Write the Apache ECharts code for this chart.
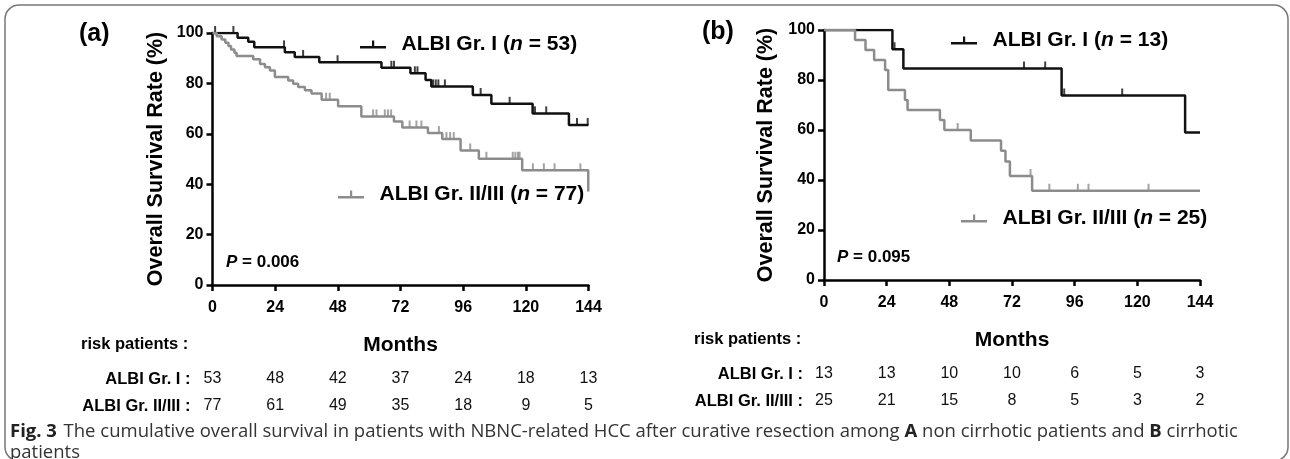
<!DOCTYPE html>
<html lang="en">
<head>
    <meta charset="utf-8"/>
    <title>ALBI grade survival</title>
    <script src="https://cdn.jsdelivr.net/npm/echarts@6/dist/echarts.min.js"></script>
    <style>
        html, body { margin: 0; padding: 0; background: #fff; }
        #chart { width: 1290px; height: 459px; }
    </style>
</head>
<body>
<div id="chart"></div>
<script>
    // tick months and numbers at risk
    const months = [0, 24, 48, 72, 96, 120, 144];
    const riskA_I = [53, 48, 42, 37, 24, 18, 13];
    const riskA_II = [77, 61, 49, 35, 18, 9, 5];
    const riskB_I = [13, 13, 10, 10, 6, 5, 3];
    const riskB_II = [25, 21, 15, 8, 5, 3, 2];

    // Kaplan-Meier steps [month, survival %]
    const kmA_I = [[0, 100], [9.6, 98.1], [13.7, 96.5], [16, 94.3], [27.7, 92.4], [31.5, 90.5], [40.9, 88.4],
        [64.7, 86.2], [75.8, 84.0], [81.6, 81.3], [83.8, 78.8], [99.7, 75.4], [106.8, 71.9], [122.6, 68.1],
        [136.5, 63.5], [144, 63.5]];
    const kmA_II = [[0, 100], [1.6, 98.7], [3.5, 97.4], [4.9, 96.1], [6.1, 94.8], [7.1, 93.5], [8.4, 92.2],
        [9.2, 90.9], [15.6, 89.6], [18.2, 87.7], [20.1, 86.4], [22, 85.1], [23.9, 82.5], [29, 81.2],
        [30.9, 79.9], [32.8, 78.6], [35.4, 77.3], [37.9, 76], [41.8, 73.5], [48.1, 70.9], [57, 66.9],
        [69.5, 64.9], [72.7, 62.5], [82.5, 60.3], [88, 57.9], [95, 53.4], [102, 50.1], [118.6, 45.5],
        [143.9, 37.1], [144, 37.1]];
    const kmB_I = [[0, 100], [26.2, 92.3], [30.4, 84.6], [91, 73.8], [138.3, 59], [144, 59]];
    const kmB_II = [[0, 100], [11.9, 96], [15.9, 92], [19.2, 88], [23.4, 84], [24.6, 76], [31, 72], [32, 68],
        [44.4, 64], [46.1, 60], [56.2, 55.8], [67.8, 51.7], [69.5, 47.4], [71.2, 41.6], [79.7, 35.7], [144, 35.7]];

    // censored times (months)
    const cenA_I = [1, 8, 27.4, 34.7, 47.9, 68.5, 69.5, 77.5, 78.5, 84.5, 85.5, 86.5, 89, 102.7, 113.8, 123.5, 127.8, 139.6, 143.7];
    const cenA_II = [43.5, 44.9, 61.5, 62.8, 66, 67.2, 68.4, 75.5, 78.1, 80, 86.7, 89.6, 91, 92.4, 98.7, 104.9,
        115, 116, 117, 117.6, 122.7, 126.9, 131, 140.9];
    const cenB_I = [27, 76.6, 84.7, 92, 114.2];
    const cenB_II = [51.2, 79.1, 86.3, 97.2, 101.3, 124.3];

    const names = ['ALBI Gr. I (n = 53)', 'ALBI Gr. II/III (n = 77)', 'ALBI Gr. I (n = 13)', 'ALBI Gr. II/III (n = 25)'];

    const FONT = '"Liberation Sans", Arial, sans-serif';
    const BLACK = '#111';
    const GRAY = '#8c8c8c';

    function survivalAt(km, t) {
        let v = km[0][1];
        for (let i = 0; i < km.length; i++) {
            if (km[i][0] <= t) v = km[i][1];
        }
        return v;
    }

    function censorData(km, times) {
        return times.map(function (t) { return [t, survivalAt(km, t)]; });
    }

    const chart = echarts.init(document.getElementById('chart'), null, {renderer: 'canvas'});

    const grids = [
        {left: 212.5, top: 33, width: 376, height: 252},
        {left: 824, top: 30, width: 376, height: 250}
    ];

    function mainX(gi, nameGap) {
        return {
            type: 'value', gridIndex: gi, min: 0, max: 144, interval: 24,
            name: 'Months', nameLocation: 'middle', nameGap: nameGap,
            nameTextStyle: {fontFamily: FONT, fontWeight: 'bold', fontSize: 21, color: '#000'},
            axisLine: {lineStyle: {color: '#000', width: 2.5}},
            axisTick: {length: 6, lineStyle: {color: '#000', width: 2.5}},
            axisLabel: {fontFamily: FONT, fontWeight: 'bold', fontSize: 16, color: '#000', margin: 15},
            splitLine: {show: false}
        };
    }

    function riskX(gi, label, values, offset, gap) {
        return {
            type: 'value', gridIndex: gi, min: 0, max: 144, interval: 24, position: 'bottom', offset: offset,
            name: label, nameLocation: 'start', nameGap: gap,
            nameTextStyle: {fontFamily: FONT, fontWeight: 'bold', fontSize: 16.5, color: '#000', verticalAlign: 'middle'},
            axisLine: {show: false}, axisTick: {show: false}, splitLine: {show: false},
            axisLabel: {
                fontFamily: FONT, fontSize: 16, color: '#111', margin: 0, verticalAlign: 'middle',
                formatter: function (v) { return String(values[months.indexOf(v)]); }
            }
        };
    }

    function yAxis(gi, nameGap) {
        return {
            type: 'value', gridIndex: gi, min: 0, max: 100, interval: 20,
            name: 'Overall Survival Rate (%)', nameLocation: 'middle', nameGap: nameGap,
            nameTextStyle: {fontFamily: FONT, fontWeight: 'bold', fontSize: 21.5, color: '#000'},
            axisLine: {show: true, lineStyle: {color: '#000', width: 2.5}},
            axisTick: {show: true, length: 6, lineStyle: {color: '#000', width: 2.5}},
            axisLabel: {fontFamily: FONT, fontWeight: 'bold', fontSize: 16, color: '#000', margin: 9},
            splitLine: {show: false}
        };
    }

    function kmSeries(name, km, cens, color, xi, yi) {
        return [{
            name: name, type: 'line', step: 'end', data: km, xAxisIndex: xi, yAxisIndex: yi,
            showSymbol: false, symbol: 'none', animation: false,
            lineStyle: {color: color, width: 2.5}, itemStyle: {color: color}
        }, {
            name: name, type: 'scatter', data: censorData(km, cens), xAxisIndex: xi, yAxisIndex: yi,
            symbol: 'rect', symbolSize: [2, 7], symbolOffset: [0, -3.5], animation: false,
            itemStyle: {color: color}, silent: true
        }];
    }

    const legendIcon = 'path://M0,5.5H26V8H0Z M12,0H14.2V5.5H12Z';
    function legendAt(name, left, top) {
        const bold = {fontFamily: FONT, fontWeight: 'bold', fontSize: 21, color: '#000'};
        return {
            data: [name], left: left, top: top, padding: 0, itemWidth: 27, itemHeight: 8, itemGap: 0,
            icon: legendIcon, selectedMode: false,
            textStyle: Object.assign({}, bold, {
                rich: {
                    s: {width: 10},
                    b: bold,
                    i: Object.assign({}, bold, {fontStyle: 'italic'})
                }
            }),
            formatter: function (n) {
                const m = n.match(/^(.*\()n( = \d+\))$/);
                return '{s|}{b|' + m[1] + '}{i|n}{b|' + m[2] + '}';
            }
        };
    }

    function boldText(text, left, top, size) {
        return {type: 'text', left: left, top: top,
            style: {text: text, font: 'bold ' + size + 'px ' + FONT, fill: '#000'}};
    }

    function pText(value, left, top) {
        return {type: 'text', left: left, top: top, style: {
            text: '{i|P}{b| = ' + value + '}',
            rich: {
                i: {font: 'italic bold 17px ' + FONT, fill: '#000'},
                b: {font: 'bold 17px ' + FONT, fill: '#000'}
            }
        }};
    }

    const capFont = '18.5px "Open Sans", "Noto Sans", sans-serif';
    const option = {
        backgroundColor: '#fff',
        animation: false,
        grid: grids,
        xAxis: [
            mainX(0, 50), riskX(0, 'ALBI Gr. I :', riskA_I, 94, 22), riskX(0, 'ALBI Gr. II/III :', riskA_II, 121, 22),
            mainX(1, 50), riskX(1, 'ALBI Gr. I :', riskB_I, 94, 21), riskX(1, 'ALBI Gr. II/III :', riskB_II, 121, 21)
        ],
        yAxis: [yAxis(0, 45), yAxis(1, 47)],
        legend: [
            legendAt(names[0], 360, 34),
            legendAt(names[1], 338, 184),
            legendAt(names[2], 951, 30),
            legendAt(names[3], 961, 208)
        ],
        series: [].concat(
            kmSeries(names[0], kmA_I, cenA_I, BLACK, 0, 0),
            kmSeries(names[1], kmA_II, cenA_II, GRAY, 0, 0),
            kmSeries(names[2], kmB_I, cenB_I, BLACK, 3, 1),
            kmSeries(names[3], kmB_II, cenB_II, GRAY, 3, 1)
        ),
        graphic: [
            {type: 'rect', shape: {x: 5, y: 5, width: 1283, height: 456, r: 14},
                style: {fill: 'none', stroke: '#777', lineWidth: 1.5}},
            boldText('(a)', 79, 22, 25),
            boldText('(b)', 702, 20, 25),
            pText('0.006', 226, 254),
            pText('0.095', 837, 249),
            boldText('risk patients :', 81, 336, 16.5),
            boldText('risk patients :', 694, 331, 16.5),
            {type: 'text', left: 10, top: 422, style: {
                text: '{b|Fig. 3}  {r|The cumulative overall survival in patients with NBNC-related HCC after curative resection among }{b|A}{r| non cirrhotic patients and }{b|B}{r| cirrhotic}\n{r|patients}',
                rich: {
                    b: {font: 'bold ' + capFont, fill: '#222', lineHeight: 21},
                    r: {font: capFont, fill: '#333', lineHeight: 21}
                }
            }}
        ]
    };

    chart.setOption(option);
</script>
</body>
</html>
